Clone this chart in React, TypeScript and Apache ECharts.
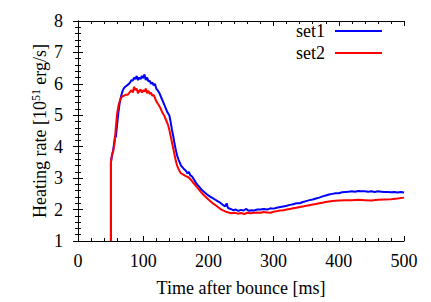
import React, { useEffect, useRef } from "react";
import * as echarts from "echarts";

const xTicks = [0, 100, 200, 300, 400, 500];
const yTicks = [1, 2, 3, 4, 5, 6, 7, 8];
const seriesNames = ["set1", "set2"];

const set1: [number, number][] = [
  [50.5, 1], [50.5, 3.5], [52, 3.7], [54, 3.9], [56, 4.2], [57, 4.35], [58, 4.3], [60, 4.7], [62, 5.1], [64, 5.4],
  [66, 5.6], [68, 5.75], [70, 5.85], [72, 5.9], [75, 5.95], [78, 6.0], [80, 6.05], [82, 6.12], [84, 6.1], [86, 6.2],
  [88, 6.15], [90, 6.25], [92, 6.12], [94, 6.2], [96, 6.15], [98, 6.25], [100, 6.18], [102, 6.3], [104, 6.12], [106, 6.2],
  [108, 6.08], [110, 6.1], [112, 6.0], [114, 6.05], [116, 5.95], [118, 6.0], [120, 5.85], [122, 5.8], [125, 5.7], [128, 5.55],
  [131, 5.4], [134, 5.25], [137, 5.1], [140, 5.0], [142, 4.8], [144, 4.55], [146, 4.35], [148, 4.1], [150, 3.9], [152, 3.72],
  [154, 3.6], [156, 3.5], [158, 3.4], [160, 3.35], [163, 3.28], [166, 3.22], [168, 3.15], [170, 3.2], [172, 3.1], [175, 3.05],
  [178, 2.95], [181, 2.85], [184, 2.77], [187, 2.7], [190, 2.62], [194, 2.55], [198, 2.48], [202, 2.42], [206, 2.37], [210, 2.32],
  [214, 2.27], [218, 2.22], [222, 2.15], [226, 2.1], [228, 2.2], [230, 2.05], [234, 2.02], [238, 1.98], [242, 2.0], [246, 1.96],
  [250, 1.99], [254, 1.97], [258, 2.02], [262, 1.96], [266, 1.98], [270, 1.97], [275, 2.0], [280, 2.0], [285, 2.02], [290, 2.0],
  [295, 2.04], [300, 2.03], [305, 2.06], [310, 2.08], [315, 2.1], [320, 2.12], [325, 2.15], [330, 2.17], [335, 2.2], [340, 2.2],
  [345, 2.24], [350, 2.27], [355, 2.3], [360, 2.32], [365, 2.35], [370, 2.38], [375, 2.42], [380, 2.45], [385, 2.48], [390, 2.5],
  [395, 2.52], [400, 2.52], [405, 2.55], [410, 2.56], [415, 2.57], [420, 2.58], [425, 2.57], [430, 2.59], [435, 2.58], [440, 2.58],
  [445, 2.57], [450, 2.58], [455, 2.56], [460, 2.58], [465, 2.57], [470, 2.56], [475, 2.56], [480, 2.55], [485, 2.56], [490, 2.54],
  [495, 2.56], [500, 2.54],
];

const set2: [number, number][] = [
  [50.5, 1], [50.5, 3.5], [52, 3.75], [54, 3.85], [56, 4.1], [58, 4.6], [60, 5.05], [62, 5.3], [64, 5.45], [66, 5.55],
  [68, 5.6], [70, 5.62], [73, 5.65], [76, 5.65], [78, 5.7], [80, 5.75], [82, 5.8], [84, 5.72], [86, 5.9], [88, 5.8],
  [90, 5.85], [92, 5.7], [94, 5.78], [96, 5.82], [98, 5.72], [100, 5.8], [102, 5.75], [104, 5.85], [106, 5.7], [108, 5.78],
  [110, 5.68], [112, 5.72], [114, 5.62], [116, 5.65], [118, 5.55], [120, 5.45], [123, 5.35], [126, 5.25], [129, 5.1], [132, 5.0],
  [135, 4.85], [138, 4.7], [140, 4.55], [142, 4.35], [144, 4.15], [146, 3.95], [148, 3.75], [150, 3.55], [152, 3.4], [154, 3.3],
  [156, 3.22], [158, 3.15], [161, 3.12], [164, 3.08], [167, 3.05], [170, 3.02], [173, 2.95], [176, 2.87], [179, 2.8], [182, 2.72],
  [185, 2.65], [188, 2.57], [192, 2.48], [196, 2.4], [200, 2.32], [204, 2.25], [208, 2.18], [212, 2.12], [216, 2.06], [220, 2.0],
  [224, 1.96], [228, 1.92], [232, 1.9], [236, 1.88], [240, 1.9], [245, 1.87], [250, 1.89], [255, 1.86], [260, 1.9], [265, 1.88],
  [270, 1.9], [275, 1.91], [280, 1.9], [285, 1.92], [290, 1.91], [295, 1.9], [300, 1.93], [305, 1.95], [310, 1.97], [315, 1.98],
  [320, 2.0], [325, 2.02], [330, 2.04], [335, 2.06], [340, 2.08], [345, 2.1], [350, 2.12], [355, 2.14], [360, 2.16], [365, 2.18],
  [370, 2.2], [375, 2.22], [380, 2.24], [385, 2.26], [390, 2.27], [395, 2.28], [400, 2.29], [410, 2.3], [420, 2.3], [430, 2.31],
  [440, 2.3], [450, 2.29], [460, 2.31], [470, 2.32], [480, 2.33], [490, 2.35], [500, 2.38],
];

const FONT = "Liberation Serif";

export default function App() {
  const ref = useRef<HTMLDivElement>(null);
  useEffect(() => {
    const chart = echarts.init(ref.current!, null, { renderer: "svg" });
    const axisCommon = {
      axisLine: { show: true, lineStyle: { color: "#000", width: 1 } },
      axisTick: { show: true, inside: true, length: 5, lineStyle: { color: "#000" } },
      minorTick: { show: true, splitNumber: 5, length: 3, lineStyle: { color: "#000" } },
      splitLine: { show: false },
      minorSplitLine: { show: false },
    };
    chart.setOption({
      animation: false,
      backgroundColor: "#fff",
      textStyle: { fontFamily: FONT },
      grid: { left: 78, right: 27, top: 21, bottom: 58, containLabel: false },
      legend: {
        data: seriesNames,
        orient: "vertical",
        right: 44,
        top: 17,
        align: "right",
        icon: "rect",
        itemWidth: 47,
        itemHeight: 2,
        itemGap: 4,
        textStyle: { fontFamily: FONT, fontSize: 18, lineHeight: 16, color: "#000", padding: [0, 5, 0, 0] },
      },
      xAxis: [
        {
          type: "value",
          min: xTicks[0],
          max: xTicks[xTicks.length - 1],
          interval: 100,
          position: "bottom",
          ...axisCommon,
          axisLabel: { fontFamily: FONT, fontSize: 18, color: "#000", margin: 11 },
          name: "Time after bounce [ms]",
          nameLocation: "middle",
          nameGap: 38,
          nameMoveOverlap: false,
          nameTextStyle: { fontFamily: FONT, fontSize: 18, color: "#000" },
        },
        {
          type: "value",
          min: xTicks[0],
          max: xTicks[xTicks.length - 1],
          interval: 100,
          position: "top",
          ...axisCommon,
          axisLabel: { show: false },
        },
      ],
      yAxis: [
        {
          type: "value",
          min: yTicks[0],
          max: yTicks[yTicks.length - 1],
          interval: 1,
          position: "left",
          ...axisCommon,
          axisLabel: { fontFamily: FONT, fontSize: 18, color: "#000", margin: 15 },
          name: "Heating rate [10{sup|51} erg/s]",
          nameLocation: "middle",
          nameGap: 28,
          nameMoveOverlap: false,
          nameTextStyle: {
            fontFamily: FONT,
            fontSize: 18,
            lineHeight: 20,
            color: "#000",
            rich: {
              sup: { fontFamily: FONT, fontSize: 12, lineHeight: 12, color: "#000", verticalAlign: "top" },
            },
          },
        },
        {
          type: "value",
          min: yTicks[0],
          max: yTicks[yTicks.length - 1],
          interval: 1,
          position: "right",
          ...axisCommon,
          axisLabel: { show: false },
        },
      ],
      series: [
        {
          name: seriesNames[0],
          type: "line",
          data: set1,
          symbol: "none",
          color: "#0000ff",
          lineStyle: { color: "#0000ff", width: 2 },
          clip: true,
        },
        {
          name: seriesNames[1],
          type: "line",
          data: set2,
          symbol: "none",
          color: "#ff0000",
          lineStyle: { color: "#ff0000", width: 2 },
          clip: true,
        },
      ],
    });
    return () => chart.dispose();
  }, []);
  return <div ref={ref} style={{ position: "fixed", left: 0, top: 0, width: 431, height: 302 }} />;
}
